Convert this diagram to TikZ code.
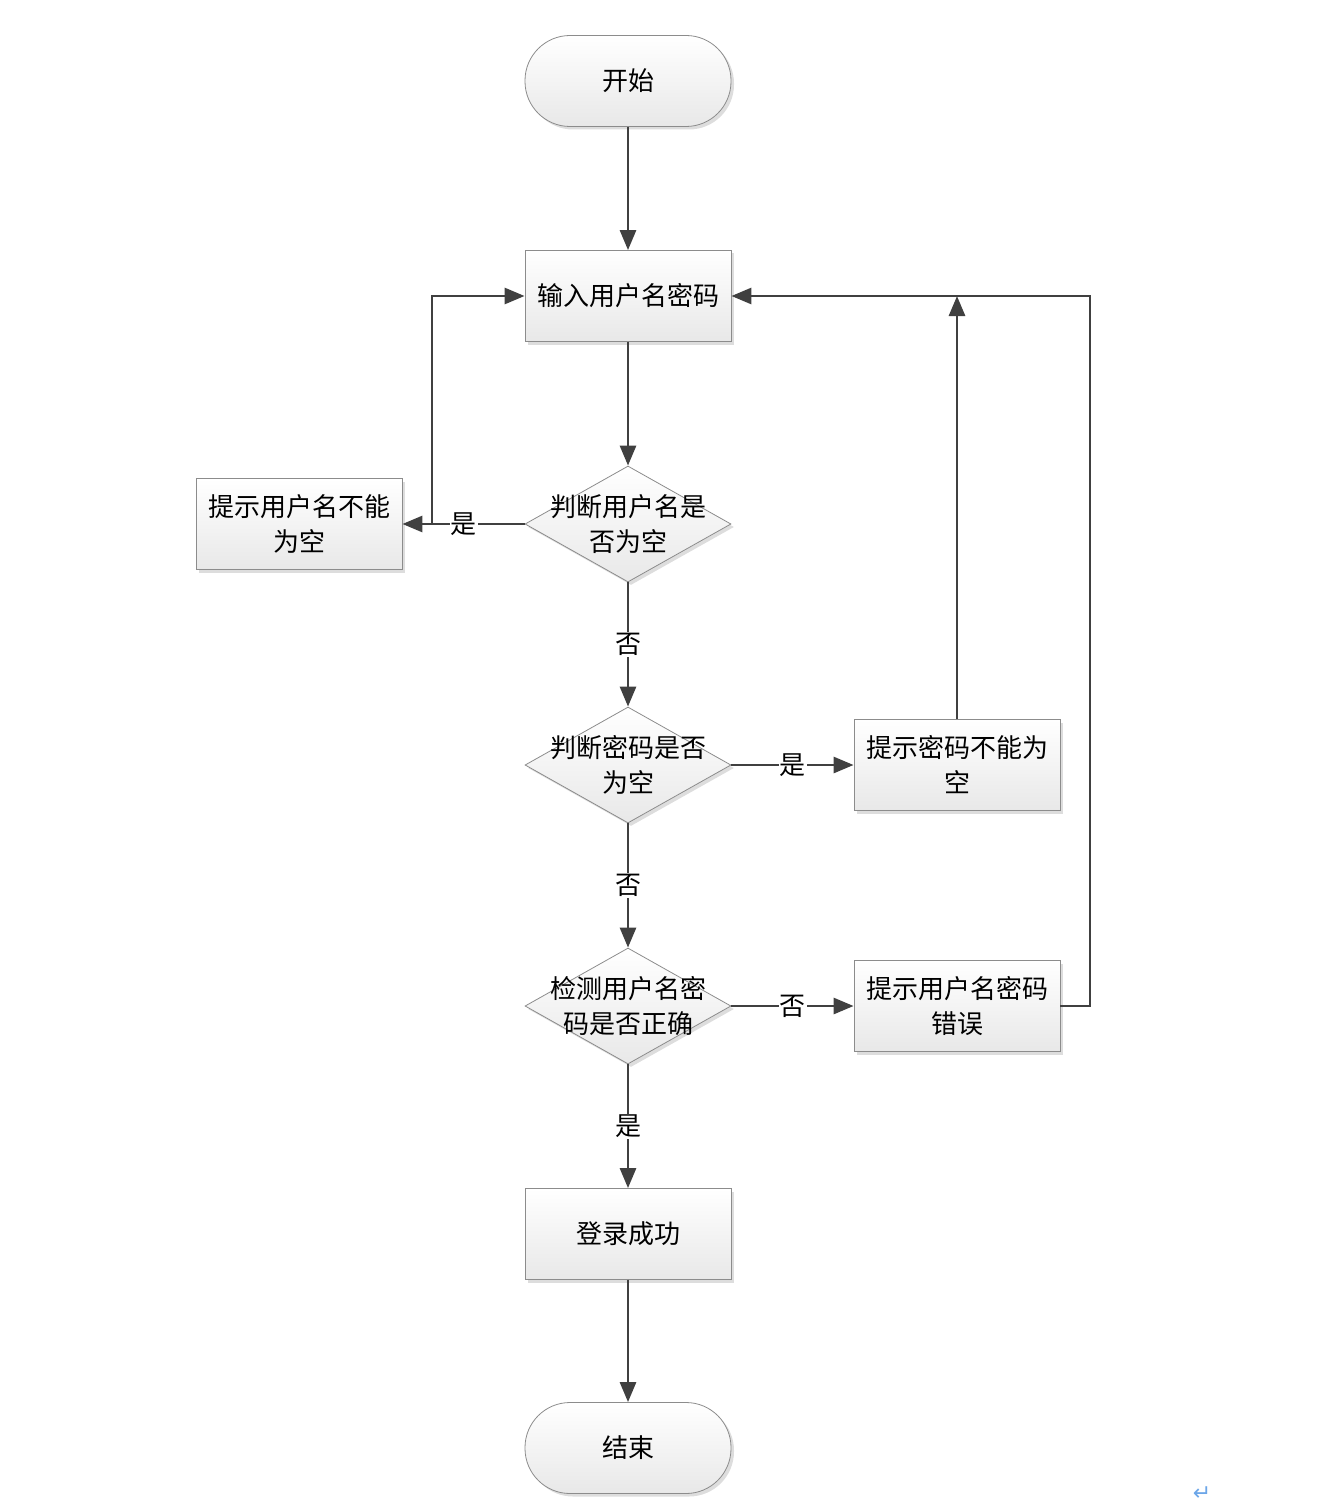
\documentclass[tikz,border=0pt]{standalone}
\usepackage{fontspec}
\newfontfamily\cjk{Noto Sans CJK SC}
\newfontfamily\dejavu{DejaVu Sans}
\usetikzlibrary{arrows.meta,shapes.geometric,shadows}
\definecolor{linec}{HTML}{404040}
\definecolor{borderc}{HTML}{8C8C8C}
\definecolor{retc}{HTML}{6CA6E8}
\begin{document}
\begin{tikzpicture}[x=1pt,y=-1pt,
 base/.style={draw=borderc, line width=0.8pt, top color=white, bottom color=black!9,
   drop shadow={shadow xshift=3pt, shadow yshift=-3pt, opacity=0.22, fill=black!60},
   font=\cjk\fontsize{26}{35}\selectfont, align=center, inner sep=0pt},
 term/.style={base, rectangle, rounded corners=45pt, minimum width=206pt, minimum height=91pt},
 proc/.style={base, rectangle, minimum width=206pt, minimum height=91pt},
 dec/.style={base, diamond, minimum width=206pt, minimum height=116pt},
 dectext/.style={font=\cjk\fontsize{26}{35}\selectfont, align=center, inner sep=0pt},
 conn/.style={draw=linec, line width=2.8pt, -{Triangle[length=20pt,width=16pt]}},
 lab/.style={fill=white, inner sep=1pt, font=\cjk\fontsize{26}{30}\selectfont},
]
\useasboundingbox (0,0) rectangle (1338,1506);

\node[term] (start) at (628,81) {开始};
\node[proc] (input) at (628,296) {输入用户名密码};
\node[dec, label={[dectext]center:判断用户名是\\否为空}] (d1) at (628,524) {};
\node[proc] (warn1) at (299,524) {提示用户名不能\\为空};
\node[dec, label={[dectext]center:判断密码是否\\为空}] (d2) at (628,765) {};
\node[proc] (warn2) at (957,765) {提示密码不能为\\空};
\node[dec, label={[dectext]center:检测用户名密\\码是否正确}] (d3) at (628,1006) {};
\node[proc] (err) at (957,1006) {提示用户名密码\\错误};
\node[proc] (succ) at (628,1234) {登录成功};
\node[term] (end) at (628,1448) {结束};

\coordinate (j1) at (432,524);
\coordinate (r1) at (1090,1006);

\draw[conn] (start) -- (input);
\draw[conn] (input) -- (d1);
\draw[conn] (d1) -- node[lab]{是} (warn1);
\draw[conn] (j1) |- (input.west);
\draw[conn] (d1) -- node[lab]{否} (d2);
\draw[conn] (d2) -- node[lab]{是} (warn2);
\draw[conn] (warn2.north) -- (warn2.north |- input.east);
\draw[conn] (d2) -- node[lab]{否} (d3);
\draw[conn] (d3) -- node[lab]{否} (err);
\draw[conn] (err.east) -- (r1) |- (input.east);
\draw[conn] (d3) -- node[lab]{是} (succ);
\draw[conn] (succ) -- (end);

\node[text=retc, font=\dejavu\fontsize{22}{22}\selectfont, inner sep=0pt] (ret) at (1202,1494) {↵};
\end{tikzpicture}
\end{document}
